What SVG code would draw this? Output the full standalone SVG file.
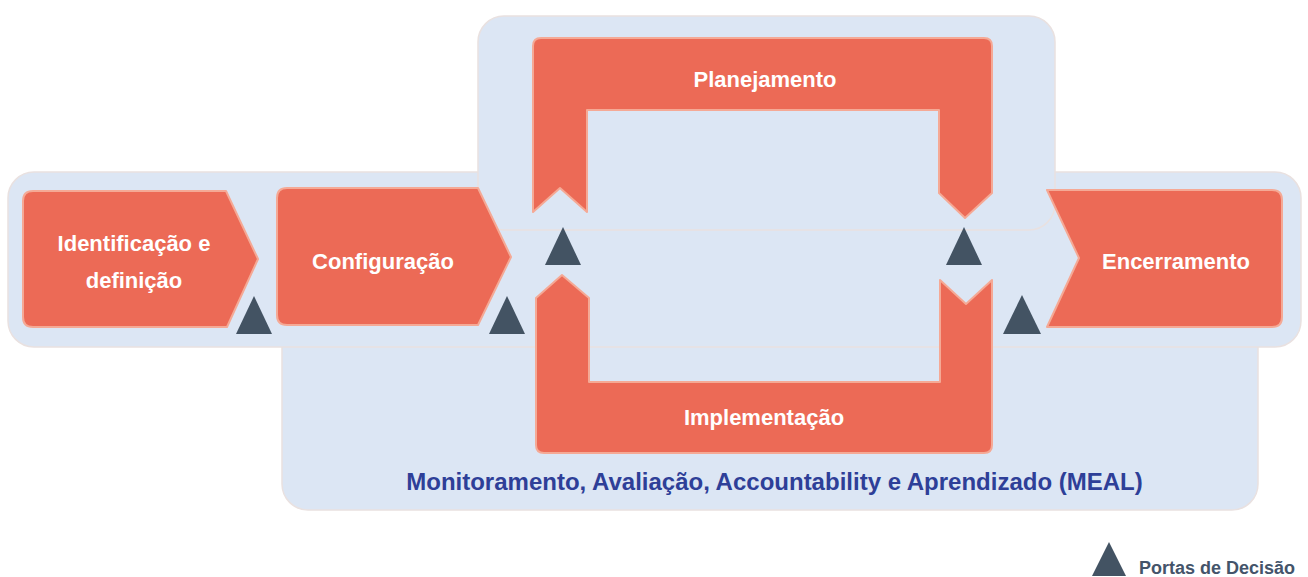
<svg xmlns="http://www.w3.org/2000/svg" width="1308" height="577" viewBox="0 0 1308 577">
<style>
.panel{fill:#DCE6F4;stroke:#E9E1E0;stroke-width:1.5}
.step{fill:#EC6A56;stroke:#F5A995;stroke-width:2;stroke-linejoin:round}
.gate{fill:#435363}
.lbl{font-family:"Liberation Sans",Arial,sans-serif;font-weight:bold;font-size:22px;fill:#FFFFFF;text-anchor:middle}
.meal{font-family:"Liberation Sans",Arial,sans-serif;font-weight:bold;font-size:24px;fill:#2E3F98;text-anchor:middle}
.legend{font-family:"Liberation Sans",Arial,sans-serif;font-weight:bold;font-size:18px;fill:#44546A}
</style>
<rect width="1308" height="577" fill="#FFFFFF"/>
<g id="backgrounds">
<rect id="meal-panel" class="panel" x="282" y="300" width="976" height="210" rx="26"/>
<rect id="band" class="panel" x="8" y="172" width="1293" height="175" rx="26"/>
<rect id="cycle-panel" class="panel" x="478" y="16" width="577" height="214" rx="26"/>
</g>
<g id="connectors"></g>
<g id="node-identificacao">
<path class="step" d="M23,201 Q23,191 33,191 L226,191 L258,259 L227,327 L33,327 Q23,327 23,317 Z"/>
<text class="lbl" x="134" y="251">Identificação e</text>
<text class="lbl" x="134" y="288">definição</text>
</g>
<g id="node-configuracao">
<path class="step" d="M277,198 Q277,188 287,188 L478,188 L511,257 L478,325 L287,325 Q277,325 277,315 Z"/>
<text class="lbl" x="383" y="269">Configuração</text>
</g>
<g id="node-planejamento">
<path class="step" d="M533,212 L533,46 Q533,38 541,38 L984,38 Q992,38 992,46 L992,193 L965,218 L939,193 L939,110 L587,110 L587,212 L560,188 Z"/>
<text class="lbl" x="765" y="87">Planejamento</text>
</g>
<g id="node-implementacao">
<path class="step" d="M536,298 L562,275 L589,298 L589,382 L940,382 L940,280 L966,304 L992,280 L992,445 Q992,453 984,453 L544,453 Q536,453 536,445 Z"/>
<text class="lbl" x="764" y="425">Implementação</text>
</g>
<g id="node-encerramento">
<path class="step" d="M1047,190 L1272,190 Q1282,190 1282,200 L1282,317 Q1282,327 1272,327 L1047,327 L1079,258 Z"/>
<text class="lbl" x="1176" y="269">Encerramento</text>
</g>
<g id="gates">
<polygon class="gate" points="254,296 236,334 272,334"/>
<polygon class="gate" points="507,296 489,334 525,334"/>
<polygon class="gate" points="563,227 545,265 581,265"/>
<polygon class="gate" points="964,227 946,265 982,265"/>
<polygon class="gate" points="1022,295 1003,334 1041,334"/>
</g>
<g id="meal-label">
<text class="meal" x="774.5" y="490">Monitoramento, Avaliação, Accountability e Aprendizado (MEAL)</text>
</g>
<g id="legend">
<polygon class="gate" points="1109,542 1092,576 1126,576"/>
<text class="legend" x="1139" y="574">Portas de Decisão</text>
</g>
</svg>
